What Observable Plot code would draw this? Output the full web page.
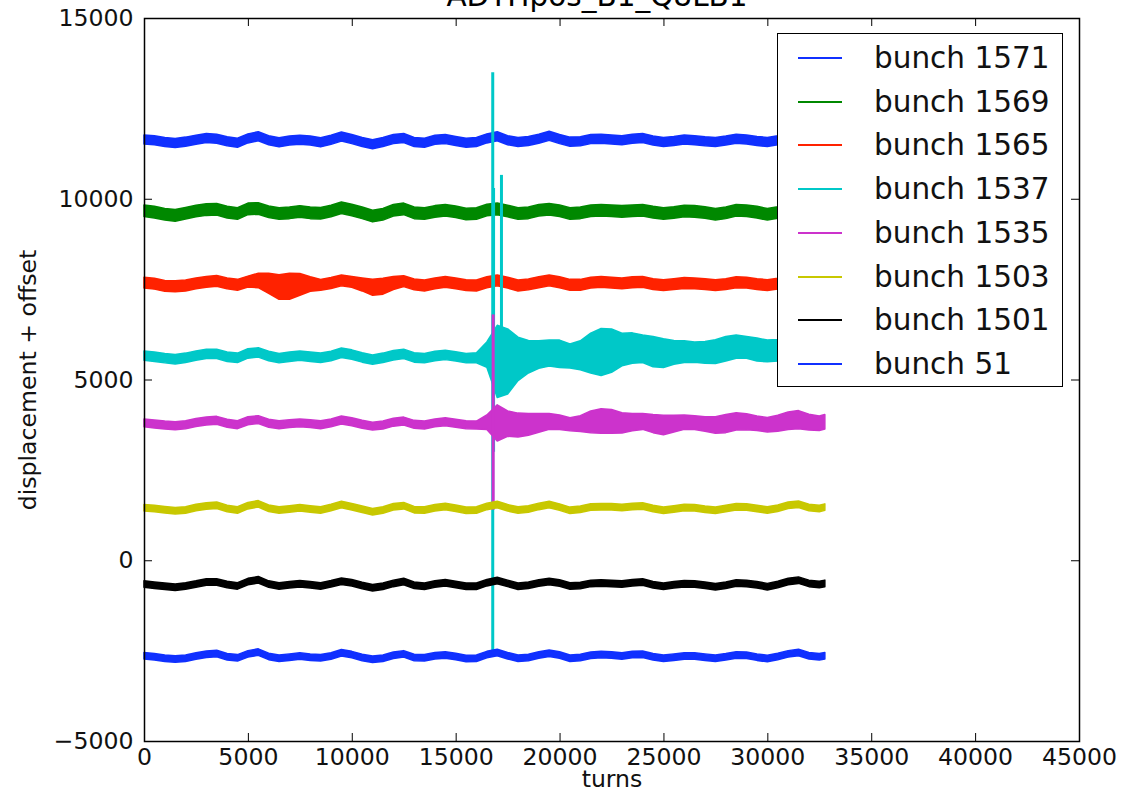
<!DOCTYPE html>
<html>
<head>
<meta charset="utf-8">
<script src="https://cdn.jsdelivr.net/npm/d3@7"></script>
<script src="https://cdn.jsdelivr.net/npm/@observablehq/plot@0.6"></script>
<style>
  html, body { margin: 0; padding: 0; background: white; overflow: hidden; }
  #wrap { position: relative; width: 1135px; height: 799px; font-family: "DejaVu Sans", sans-serif; }
  #title { position: absolute; top: -18px; left: 597px; transform: translateX(-50%); font-size: 29.5px; line-height: 1; white-space: nowrap; color: #000; }
  #legend { position: absolute; left: 777px; top: 33px; width: 284px; height: 352px; background: white; border: 1.5px solid #000; }
  .row { position: absolute; left: 0; height: 44px; width: 100%; }
  .swatch { position: absolute; left: 20px; top: 21px; width: 44px; height: 2px; }
  .lab { position: absolute; left: 96px; top: 0; line-height: 44px; font-size: 29.5px; color: #111; white-space: nowrap; }
</style>
</head>
<body>
<div id="wrap">
  <div id="title">ADTHpos_B1_Q8LB1</div>
  <div id="chart"></div>
  <div id="legend"></div>
</div>
<script>
// ---------------- data ----------------
const bunches = ["bunch 1571", "bunch 1569", "bunch 1565", "bunch 1537", "bunch 1535", "bunch 1503", "bunch 1501", "bunch 51"];
const colors  = ["#1030ff", "#008800", "#ff2200", "#00c8c8", "#cc33cc", "#c8c800", "#000000", "#1030ff"];
const offsets = [11620, 9640, 7660, 5650, 3800, 1450, -660, -2650];
const noiseHalfWidth = [125, 160, 150, 130, 110, 90, 90, 90];

const turns = [0,500,1000,1500,2000,2500,3000,3500,4000,4500,5000,5500,6000,6500,7000,7500,8000,8500,9000,9500,
  10000,10500,11000,11500,12000,12500,13000,13500,14000,14500,15000,15500,16000,16500,17000,17500,18000,18500,19000,19500,
  20000,20500,21000,21500,22000,22500,23000,23500,24000,24500,25000,25500,26000,26500,27000,27500,28000,28500,29000,29500,
  30000,30500,31000,31500,32000,32500,32768];

const d1571 = [20,0,-50,-80,-40,10,60,40,-30,-70, 50,110,0,-60,-10,10,-10,-60,10,100, 30,-50,-110,-50,30,60,-50,-70,10,30, -20,-70,-50,50,110,0,-50,-20,40,120, 30,-40,-30,30,40,20,0,40,60,-10, -50,-20,20,0,-30,-50,-10,40,20,-20, -50,0,60,80,10,-10,0];
const d1569 = [30,-10,-70,-100,-40,20,60,70,-10,-50, 80,90,0,-50,-30,10,-30,-40,20,110, 50,-30,-120,-70,40,80,-30,-50,10,40, 0,-60,-50,50,80,20,-50,-30,40,70, 30,-50,-30,30,40,30,10,30,40,-10, -50,-20,20,10,-20,-70,-30,40,30,-10, -70,-20,50,70,-10,-30,0];
const d1565 = [20,-10,-70,-80,-60,0,40,70,0,-40, 50,80,0,-100,-80,-30,-20,-40,10,80, 40,-30,-110,-80,10,60,-30,-60,0,40, 0,-50,-60,30,80,20,-60,-30,30,80, 30,-40,-40,20,40,20,0,30,40,-20, -50,-20,10,0,-20,-50,-20,30,20,-20, -50,-10,50,70,0,-20,0];
const d1537 = [10,-20,-60,-90,-50,10,60,60,-20,-50, 70,100,0,-60,-20,10,-20,-50,0,90, 40,-40,-100,-50,20,60,-40,-60,0,30, -10,-60,-50,40,-150,-150,-80,-20,40,80, 60,0,20,80,110,150,180,220,200,120, 80,100,120,110,100,120,200,260,240,180, 140,160,200,230,180,150,160];
const d1535 = [0,-30,-60,-80,-50,10,50,70,-10,-50, 60,90,-10,-50,-20,0,-20,-50,0,80, 30,-40,-90,-60,20,50,-40,-60,0,30, -10,-50,-60,20,0,-20,-60,-40,0,40, 20,-40,-20,30,50,40,0,20,40,-20, -60,-20,20,10,-30,-60,-20,40,30,-10, -50,-10,60,90,20,-10,30];
const d1503 = [0,-20,-50,-80,-60,10,50,70,-20,-60, 60,110,-10,-60,-30,0,-30,-60,10,90, 30,-40,-110,-60,30,60,-50,-60,0,40, -10,-70,-60,40,90,0,-60,-30,40,90, 20,-70,-40,20,30,30,10,40,50,-20, -70,-30,10,0,-40,-70,-20,30,20,-20, -60,-10,70,100,10,-20,20];
const d1501 = [0,-30,-60,-90,-50,0,60,60,-10,-50, 70,120,0,-50,-20,10,-20,-50,10,80, 40,-40,-100,-60,20,70,-30,-60,0,40, -10,-60,-60,40,100,20,-60,-30,30,70, 30,-50,-40,20,30,20,0,40,60,-20, -60,-20,10,0,-30,-70,-30,30,20,-20, -70,-10,70,110,20,-10,20];
const d51   = [10,-20,-60,-80,-60,0,50,70,-20,-50, 60,110,-10,-60,-30,0,-30,-50,0,90, 40,-40,-90,-60,20,60,-40,-50,10,30, -10,-70,-60,40,100,10,-60,-40,30,80, 30,-60,-40,20,40,30,0,40,50,-20, -60,-30,0,0,-30,-60,-20,30,20,-30, -70,-10,60,100,10,-20,10];

// oscillation envelopes (half-width of the noise band) where it varies
const env1565 = [150,150,150,150,150,150,150,150,150,150, 150,200,280,340,360,300,200,150,150,150, 150,180,220,220,180,150,150,150,150,150, 150,150,150,150,150,150,150,150,150,150, 150,150,150,150,150,150,150,150,150,150, 150,150,150,150,150,150,150,150,150,150, 150,150,150,150,150,150,150];
const env1537 = [130,130,130,130,130,130,130,130,130,130, 130,130,130,130,130,130,130,130,130,130, 130,130,130,130,130,130,130,130,130,130, 130,130,140,350,1000,900,600,450,380,360, 380,330,400,550,650,600,450,420,380,420, 400,330,300,280,300,330,340,320,300,320, 300,300,300,300,300,280,280];
const env1535 = [110,110,110,110,110,110,110,110,110,110, 110,110,110,110,110,110,110,110,110,110, 110,110,110,110,110,110,110,110,110,110, 110,110,110,200,500,350,330,300,260,220, 200,180,220,300,340,330,280,240,220,250, 270,230,200,190,200,230,250,240,220,200, 200,220,240,250,220,200,200];

const displacements = [d1571, d1569, d1565, d1537, d1535, d1503, d1501, d51];
const envelopes = [null, null, env1565, env1537, env1535, null, null, null];

// short transient spikes at injection
const spikeBunch = ["bunch 1537", "bunch 1537", "bunch 1537", "bunch 1535"];
const spikeTurn  = [16760, 16800, 17180, 16780];
const spikeLow   = [-2540, 3000, 4600, 1400];
const spikeHigh  = [13500, 10300, 10660, 6800];

const xTicks = [0, 5000, 10000, 15000, 20000, 25000, 30000, 35000, 40000, 45000];
const yTicks = [-5000, 0, 5000, 10000, 15000];

// ---------------- build ----------------
const fmt = d3.format("d");
const marks = [];
bunches.forEach((b, i) => {
  const rows = turns.map((t, j) => {
    const c = offsets[i] + displacements[i][j];
    const hw = envelopes[i] ? envelopes[i][j] : noiseHalfWidth[i];
    return {turn: t, lo: c - hw, hi: c + hw};
  });
  marks.push(Plot.areaY(rows, {x: "turn", y1: "lo", y2: "hi", fill: colors[i], stroke: colors[i], strokeWidth: 1.5}));
  const sp = spikeTurn.map((t, k) => ({bunch: spikeBunch[k], turn: t, lo: spikeLow[k], hi: spikeHigh[k]})).filter(s => s.bunch === b);
  if (sp.length) marks.push(Plot.ruleX(sp, {x: "turn", y1: "lo", y2: "hi", stroke: colors[i], strokeWidth: 3}));
});

const chart = Plot.plot({
  width: 1135,
  height: 799,
  marginLeft: 144,
  marginRight: 56,
  marginTop: 18,
  marginBottom: 58,
  style: {fontFamily: "DejaVu Sans", fontSize: "23.6px", color: "#111", background: "white"},
  x: {domain: [0, 45000]},
  y: {domain: [-5000, 15000]},
  marks: [
    ...marks,
    Plot.frame({stroke: "black", strokeWidth: 1.5}),
    Plot.tickX(xTicks, {x: d => d, insetTop: 715, stroke: "black"}),
    Plot.tickX(xTicks, {x: d => d, insetBottom: 715, stroke: "black"}),
    Plot.tickY(yTicks, {y: d => d, insetRight: 927, stroke: "black"}),
    Plot.tickY(yTicks, {y: d => d, insetLeft: 927, stroke: "black"}),
    Plot.axisX(xTicks, {tickSize: 0, tickPadding: 7, tickFormat: fmt, label: null}),
    Plot.axisY(yTicks, {tickSize: 0, tickPadding: 11, tickFormat: fmt, label: null}),
    Plot.text(["turns"], {frameAnchor: "bottom", dy: 45, text: d => d, fontSize: 23.6, fill: "#111"}),
    Plot.text(["displacement + offset"], {frameAnchor: "left", textAnchor: "middle", dx: -116, rotate: -90, text: d => d, fontSize: 23.6, fill: "#111"})
  ]
});
document.getElementById("chart").appendChild(chart);

// legend
const legend = document.getElementById("legend");
bunches.forEach((b, i) => {
  const row = document.createElement("div");
  row.className = "row";
  row.style.top = Math.round(2 + i * 43.7) + "px";
  const sw = document.createElement("div");
  sw.className = "swatch";
  sw.style.background = colors[i];
  const lab = document.createElement("div");
  lab.className = "lab";
  lab.textContent = b;
  row.appendChild(sw);
  row.appendChild(lab);
  legend.appendChild(row);
});
</script>
</body>
</html>
